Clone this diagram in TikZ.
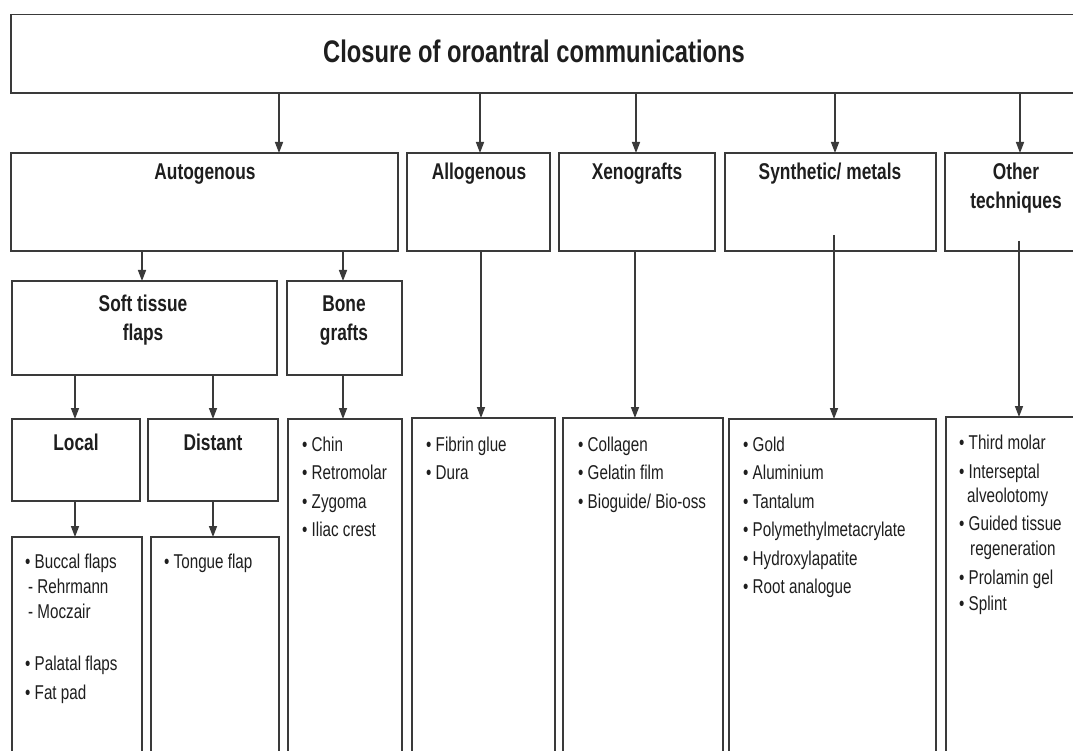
\documentclass[tikz,border=0pt]{standalone}
\usepackage{fontspec}
\setmainfont{Liberation Sans}
\newfontfamily\cf{Liberation Sans}[FakeStretch=0.76]
\usetikzlibrary{arrows.meta}
\definecolor{linec}{HTML}{3A3A3A}
\definecolor{textc}{HTML}{1E1E1E}
\tikzset{
  box/.style={draw=linec, line width=1.6pt, anchor=north west, inner sep=0pt, outer sep=0pt},
  arr/.style={draw=linec, line width=1.5pt, -{Triangle[length=11pt,width=8pt]}},
  head/.style={font=\cf\bfseries\fontsize{22.8}{29}\selectfont, text=textc, anchor=base, inner sep=0pt},
  bigtitle/.style={font=\cf\bfseries\fontsize{31.2}{36}\selectfont, text=textc, anchor=base, inner sep=0pt},
  item/.style={font=\cf\fontsize{20}{28}\selectfont, text=textc, anchor=base west, inner sep=0pt},
}
\begin{document}
\begin{tikzpicture}[x=1pt,y=-1pt]
\useasboundingbox[fill=white] (0,0) rectangle (1073,751);
\begin{scope}
\clip (0,0) rectangle (1073,751);
% boxes
\node[box, minimum width=1100, minimum height=78.5] (title) at (11,14.5) {};
\node[box, minimum width=387, minimum height=98] (auto) at (11,153) {};
\node[box, minimum width=143, minimum height=98] (allo) at (407,153) {};
\node[box, minimum width=156, minimum height=98] (xeno) at (559,153) {};
\node[box, minimum width=211, minimum height=98] (synth) at (725,153) {};
\node[box, minimum width=150, minimum height=98] (other) at (945,153) {};
\node[box, minimum width=265, minimum height=94] (soft) at (12,281) {};
\node[box, minimum width=115, minimum height=94] (bone) at (287,281) {};
\node[box, minimum width=128, minimum height=82] (local) at (12,419) {};
\node[box, minimum width=130, minimum height=82] (distant) at (148,419) {};
\node[box, minimum width=114, minimum height=400] (bonelist) at (288,419) {};
\node[box, minimum width=143, minimum height=400] (fibrin) at (412,418) {};
\node[box, minimum width=160, minimum height=400] (coll) at (563,418) {};
\node[box, minimum width=207, minimum height=400] (gold) at (729,419) {};
\node[box, minimum width=150, minimum height=400] (otherlist) at (946,417) {};
\node[box, minimum width=130, minimum height=300] (locallist) at (12,537) {};
\node[box, minimum width=128, minimum height=300] (distlist) at (151,537) {};

% connector x positions
\coordinate (xa) at (279,0);
\coordinate (xb) at (480,0);
\coordinate (xc) at (636,0);
\coordinate (xd) at (835,0);
\coordinate (xe) at (1020,0);
\coordinate (xf) at (142,0);
\coordinate (xg) at (343,0);
\coordinate (xh) at (75,0);
\coordinate (xi) at (213,0);
\coordinate (xj) at (481,0);
\coordinate (xk) at (635,0);
\coordinate (sd) at (834,235);
\coordinate (se) at (1019,241);

\draw[arr] (title.south -| xa) -- (auto.north -| xa);
\draw[arr] (title.south -| xb) -- (allo.north -| xb);
\draw[arr] (title.south -| xc) -- (xeno.north -| xc);
\draw[arr] (title.south -| xd) -- (synth.north -| xd);
\draw[arr] (title.south -| xe) -- (other.north -| xe);
\draw[arr] (auto.south -| xf) -- (soft.north -| xf);
\draw[arr] (auto.south -| xg) -- (bone.north -| xg);
\draw[arr] (soft.south -| xh) -- (local.north -| xh);
\draw[arr] (soft.south -| xi) -- (distant.north -| xi);
\draw[arr] (bone.south -| xg) -- (bonelist.north -| xg);
\draw[arr] (local.south -| xh) -- (locallist.north -| xh);
\draw[arr] (distant.south -| xi) -- (distlist.north -| xi);
\draw[arr] (allo.south -| xj) -- (fibrin.north -| xj);
\draw[arr] (xeno.south -| xk) -- (coll.north -| xk);
\draw[arr] (sd) -- (gold.north -| sd);
\draw[arr] (se) -- (otherlist.north -| se);

% headings
\node[bigtitle] (tt) at (534,63) {Closure of oroantral communications};
\node[head] (t-auto) at (205,180) {Autogenous};
\node[head] (t-allo) at (479,180) {Allogenous};
\node[head] (t-xeno) at (637,180) {Xenografts};
\node[head] (t-synth) at (830,180) {Synthetic/ metals};
\node[head] (t-other1) at (1016,180) {Other};
\node[head] (t-other2) at (1016,209) {techniques};
\node[head] (t-soft1) at (143,311.5) {Soft tissue};
\node[head] (t-soft2) at (143,340.5) {flaps};
\node[head] (t-bone1) at (344,311.5) {Bone};
\node[head] (t-bone2) at (344,340.5) {grafts};
\node[head] (t-local) at (76,450) {Local};
\node[head] (t-dist) at (213,450) {Distant};

% lists
\foreach \t/\y [count=\i] in {Chin/451, Retromolar/479.5, Zygoma/508, Iliac crest/536.5}
  \node[item] (bl-\i) at (302,\y) {• \t};
\foreach \t/\y [count=\i] in {Fibrin glue/451, Dura/479.5}
  \node[item] (fl-\i) at (426,\y) {• \t};
\node[item] (cl-1) at (578,451) {• Collagen};
\node[item] (cl-2) at (578,479.5) {• Gelatin film};
\node[item] (cl-3) at (578,508) {• Bioguide/ Bio-oss};
\foreach \t/\y [count=\i] in {Gold/451, Aluminium/479.5, Tantalum/508, Polymethylmetacrylate/536.5, Hydroxylapatite/565, Root analogue/593.5}
  \node[item] (gl-\i) at (743,\y) {• \t};
\node[item] (ol-1) at (959,449) {• Third molar};
\node[item] (ol-2) at (959,478) {• Interseptal};
\node[item] (ol-3) at (967,502) {alveolotomy};
\node[item] (ol-4) at (959,530) {• Guided tissue};
\node[item] (ol-5) at (970,555) {regeneration};
\node[item] (ol-6) at (959,584) {• Prolamin gel};
\node[item] (ol-7) at (959,610) {• Splint};
\node[item] (ll-1) at (25,568) {• Buccal flaps};
\node[item] (ll-2) at (28,593) {- Rehrmann};
\node[item] (ll-3) at (28,618) {- Moczair};
\node[item] (ll-4) at (25,670) {• Palatal flaps};
\node[item] (ll-5) at (25,699) {• Fat pad};
\node[item] (dl-1) at (164,568) {• Tongue flap};
\end{scope}
\end{tikzpicture}
\end{document}
